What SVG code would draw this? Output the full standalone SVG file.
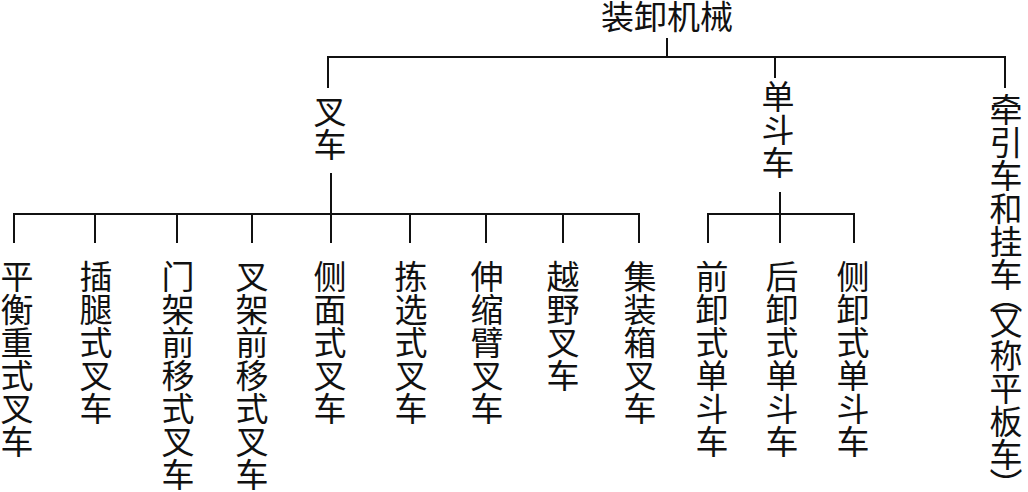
<svg xmlns="http://www.w3.org/2000/svg" width="1028" height="492" viewBox="0 0 1028 492">
<style>
text{font-family:"Noto Sans CJK SC","Noto Sans CJK TC",sans-serif;font-size:33px;fill:#111}
.v{writing-mode:vertical-rl}
.c path{fill:none;stroke:#111;stroke-width:2}
</style>
<rect width="1028" height="492" fill="#fff"/>
<g class="c" id="connectors">
<path d="M667 38V57"/>
<path d="M328 88V57H1005V88"/>
<path d="M775 57V78"/>
<path d="M331 173V214"/>
<path d="M14 243V214H639V243"/>
<path d="M95 214V243M177 214V243M252 214V243M331 214V243M410 214V243M486 214V243M563 214V243"/>
<path d="M780 192V214"/>
<path d="M708 243V214H854V243M780 214V243"/>
</g>
<g id="root"><text x="667" y="29" text-anchor="middle">装卸机械</text></g>
<g id="n-chache"><text class="v" x="330" y="95">叉车</text></g>
<g id="n-dandou"><text class="v" x="778" y="80">单斗车</text></g>
<g id="n-qianyin"><text class="v" x="1006" y="93">牵引车和挂车<tspan y="280">（</tspan><tspan y="306">又称平板车</tspan><tspan y="468">）</tspan></text></g>
<g id="n1"><text class="v" x="17" y="260">平衡重式叉车</text></g>
<g id="n2"><text class="v" x="96" y="260">插腿式叉车</text></g>
<g id="n3"><text class="v" x="178" y="260">门架前移式叉车</text></g>
<g id="n4"><text class="v" x="252" y="260">叉架前移式叉车</text></g>
<g id="n5"><text class="v" x="330" y="260">侧面式叉车</text></g>
<g id="n6"><text class="v" x="411" y="260">拣选式叉车</text></g>
<g id="n7"><text class="v" x="487" y="260">伸缩臂叉车</text></g>
<g id="n8"><text class="v" x="563" y="260">越野叉车</text></g>
<g id="n9"><text class="v" x="640" y="260">集装箱叉车</text></g>
<g id="n10"><text class="v" x="712" y="260">前卸式单斗车</text></g>
<g id="n11"><text class="v" x="782" y="260">后卸式单斗车</text></g>
<g id="n12"><text class="v" x="853" y="260">侧卸式单斗车</text></g>
</svg>
